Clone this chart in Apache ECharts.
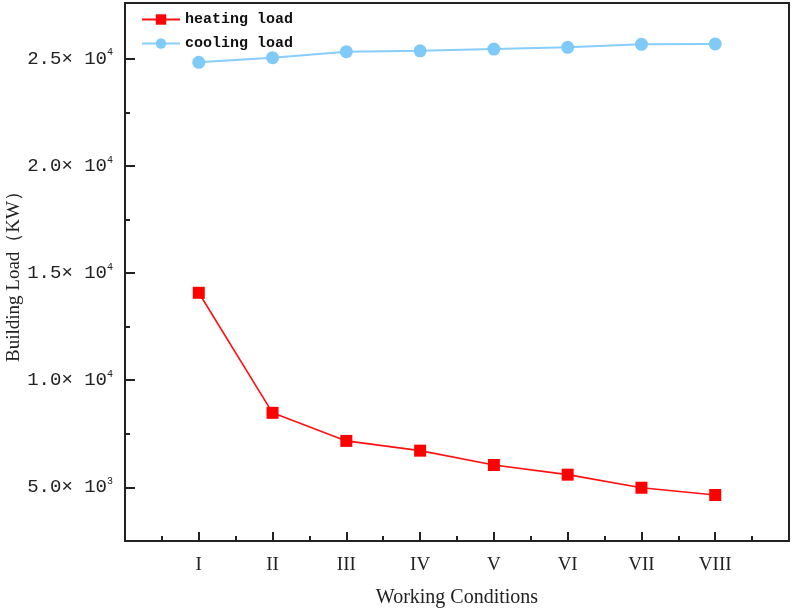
<!DOCTYPE html>
<html>
<head>
<meta charset="utf-8">
<script src="https://cdn.jsdelivr.net/npm/echarts@6/dist/echarts.min.js"></script>
<style>html,body{margin:0;padding:0;background:#fff}#c{width:794px;height:609px}</style>
</head>
<body>
<div id="c"></div>
<script>
const categories = ['I', 'II', 'III', 'IV', 'V', 'VI', 'VII', 'VIII'];
const heatingLoad = [14080, 8480, 7170, 6715, 6045, 5595, 4985, 4645];
const coolingLoad = [24830, 25050, 25330, 25370, 25450, 25530, 25670, 25690];
const yMajorTicks = [5000, 10000, 15000, 20000, 25000];
const yMinorTicks = [7500, 12500, 17500, 22500];
const xMajorTicks = [1, 2, 3, 4, 5, 6, 7, 8];
const xMinorTicks = [0.5, 1.5, 2.5, 3.5, 4.5, 5.5, 6.5, 7.5, 8.5];

const chart = echarts.init(document.getElementById('c'), null, {renderer: 'canvas'});
const axisColor = '#222';
function sciLabel(v) {
  const e = Math.floor(Math.log10(v));
  const m = v / Math.pow(10, e);
  return '{m|' + m.toFixed(1) + '× 10}{e|' + e + '}';
}
const option = {
  backgroundColor: '#fff',
  animation: false,
  grid: {left: 125, right: 5, top: 3, bottom: 68, show: true, borderColor: axisColor, borderWidth: 2,
    backgroundColor: 'transparent', containLabel: false, outerBoundsMode: 'none'},
  legend: {
    orient: 'vertical', left: 136, top: 7, itemGap: 9, itemWidth: 38, itemHeight: 13,
    textStyle: {fontFamily: 'Liberation Mono', fontSize: 15, fontWeight: 'bold', color: '#111'},
    data: ['heating load', 'cooling load']
  },
  xAxis: [{
    type: 'value', min: 0, max: 9, position: 'bottom',
    name: 'Working Conditions', nameLocation: 'middle', nameGap: 47, nameMoveOverlap: false,
    nameTextStyle: {fontFamily: 'Liberation Serif', fontSize: 20, color: '#222'},
    axisLine: {show: true, lineStyle: {color: axisColor, width: 2}},
    axisTick: {show: true, inside: true, length: 9, customValues: xMajorTicks, lineStyle: {color: axisColor, width: 2}},
    axisLabel: {show: true, customValues: xMajorTicks, margin: 15, fontFamily: 'Liberation Serif', fontSize: 19, color: '#222',
      formatter: v => categories[Math.round(v) - 1] || ''},
    splitLine: {show: false}
  }, {
    type: 'value', min: 0, max: 9, position: 'bottom',
    axisLine: {show: false},
    axisTick: {show: true, inside: true, length: 5, customValues: xMinorTicks, lineStyle: {color: axisColor, width: 2}},
    axisLabel: {show: false},
    splitLine: {show: false}
  }],
  yAxis: [{
    type: 'value', min: 2500, max: 27600, position: 'left',
    name: 'Building Load（KW）', nameLocation: 'middle', nameGap: 101, nameMoveOverlap: false,
    nameTextStyle: {fontFamily: 'Liberation Serif', fontSize: 19, color: '#222'},
    axisLine: {show: true, lineStyle: {color: axisColor, width: 2}},
    axisTick: {show: true, inside: true, length: 10, customValues: yMajorTicks, lineStyle: {color: axisColor, width: 2}},
    axisLabel: {show: true, customValues: yMajorTicks, margin: 12, formatter: sciLabel,
      rich: {
        m: {fontFamily: 'Liberation Mono', fontSize: 19, color: '#222'},
        e: {fontFamily: 'Liberation Mono', fontSize: 10, color: '#222', padding: [0, 0, 12, 0]}
      }},
    splitLine: {show: false}
  }, {
    type: 'value', min: 2500, max: 27600, position: 'left',
    axisLine: {show: false},
    axisTick: {show: true, inside: true, length: 5, customValues: yMinorTicks, lineStyle: {color: axisColor, width: 2}},
    axisLabel: {show: false},
    splitLine: {show: false}
  }],
  series: [{
    name: 'heating load', type: 'line', xAxisIndex: 0, yAxisIndex: 0,
    data: heatingLoad.map((v, i) => [i + 1, v]),
    symbol: 'rect', symbolSize: 12,
    lineStyle: {color: '#ff1010', width: 1.6},
    itemStyle: {color: '#ff0000'}
  }, {
    name: 'cooling load', type: 'line', xAxisIndex: 0, yAxisIndex: 0,
    data: coolingLoad.map((v, i) => [i + 1, v]),
    symbol: 'circle', symbolSize: 13,
    lineStyle: {color: '#88cefa', width: 2},
    itemStyle: {color: '#80caf9'}
  }]
};
chart.setOption(option);
</script>
</body>
</html>
